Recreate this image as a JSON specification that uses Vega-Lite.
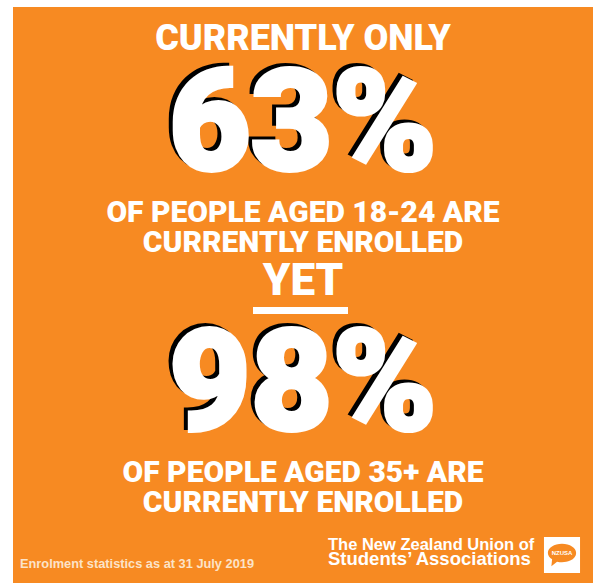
{
  "$schema": "https://vega.github.io/schema/vega-lite/v6.json",
  "width": 598,
  "height": 584,
  "autosize": {"type": "fit", "contains": "padding"},
  "padding": {"left": 13, "top": 7, "right": 5, "bottom": 1},
  "background": "#ffffff",
  "config": {"view": {"fill": "#F78A22", "stroke": null}},
  "data": {
    "values": [
      {"line": 1, "col": 2, "kind": "head", "label": "CURRENTLY ONLY"},
      {"line": 2, "col": 2, "kind": "big", "label": "63%", "value": 63},
      {"line": 3, "col": 2, "kind": "sub", "label": "OF PEOPLE AGED 18-24 ARE"},
      {"line": 4, "col": 2, "kind": "sub", "label": "CURRENTLY ENROLLED"},
      {"line": 5, "col": 2, "kind": "yet", "label": "YET"},
      {"line": 6, "col": 1, "col2": 4, "kind": "underline"},
      {"line": 7, "col": 2, "kind": "big", "label": "98%", "value": 98},
      {"line": 8, "col": 2, "kind": "sub", "label": "OF PEOPLE AGED 35+  ARE"},
      {"line": 9, "col": 2, "kind": "sub", "label": "CURRENTLY ENROLLED"},
      {"line": 10, "col": 3, "kind": "logo1", "label": "The New Zealand Union of"},
      {"line": 11, "col": 5, "kind": "logomark", "label": "NZUSA"},
      {"line": 12, "col": 3, "kind": "logo2", "label": "Students’ Associations"},
      {"line": 13, "col": 0, "kind": "foot", "label": "Enrolment statistics as at 31 July 2019"}
    ]
  },
  "encoding": {
    "x": {"field": "col", "type": "quantitative", "axis": null,
      "scale": {"domain": [0, 1, 2, 3, 4, 5], "range": [7, 240, 290, 315, 335, 549], "zero": false, "nice": false}},
    "y": {"field": "line", "type": "quantitative", "axis": null,
      "scale": {"domain": [1, 2, 3, 4, 5, 6, 7, 8, 9, 10, 11, 12, 13], "range": [43, 163, 215, 245, 288, 303.5, 423, 475, 505, 543, 548, 558, 561], "zero": false, "nice": false}}
  },
  "layer": [
    {
      "transform": [{"filter": "datum.kind === 'underline'"}],
      "mark": {"type": "rule", "color": "#ffffff", "strokeWidth": 7},
      "encoding": {"x2": {"field": "col2"}}
    },
    {
      "transform": [{"filter": "datum.kind === 'big'"}],
      "mark": {"type": "text", "font": "Roboto", "fontWeight": 900, "fontSize": 141, "fill": "#000000", "stroke": "#000000", "strokeWidth": 4, "baseline": "alphabetic", "align": "center", "dx": -4, "dy": -3},
      "encoding": {"text": {"field": "label"}}
    },
    {
      "transform": [{"filter": "datum.kind === 'big'"}],
      "mark": {"type": "text", "font": "Roboto", "fontWeight": 900, "fontSize": 141, "fill": "#ffffff", "stroke": "#ffffff", "strokeWidth": 4, "baseline": "alphabetic", "align": "center"},
      "encoding": {"text": {"field": "label"}}
    },
    {
      "transform": [{"filter": "datum.kind === 'head'"}],
      "mark": {"type": "text", "font": "Roboto", "fontWeight": 900, "fontSize": 36, "fill": "#ffffff", "baseline": "alphabetic", "align": "center"},
      "encoding": {"text": {"field": "label"}}
    },
    {
      "transform": [{"filter": "datum.kind === 'sub'"}],
      "mark": {"type": "text", "font": "Roboto", "fontWeight": 900, "fontSize": 30, "fill": "#ffffff", "baseline": "alphabetic", "align": "center"},
      "encoding": {"text": {"field": "label"}}
    },
    {
      "transform": [{"filter": "datum.kind === 'yet'"}],
      "mark": {"type": "text", "font": "Roboto", "fontWeight": 900, "fontSize": 44, "fill": "#ffffff", "baseline": "alphabetic", "align": "center"},
      "encoding": {"text": {"field": "label"}}
    },
    {
      "transform": [{"filter": "datum.kind === 'logo1'"}],
      "mark": {"type": "text", "font": "Liberation Sans", "fontWeight": "bold", "fontSize": 16.5, "fill": "#ffffff", "baseline": "alphabetic", "align": "left"},
      "encoding": {"text": {"field": "label"}}
    },
    {
      "transform": [{"filter": "datum.kind === 'logo2'"}],
      "mark": {"type": "text", "font": "Liberation Sans", "fontWeight": "bold", "fontSize": 18.5, "fill": "#ffffff", "baseline": "alphabetic", "align": "left"},
      "encoding": {"text": {"field": "label"}}
    },
    {
      "transform": [{"filter": "datum.kind === 'foot'"}],
      "mark": {"type": "text", "font": "Liberation Sans", "fontWeight": "bold", "fontSize": 12.8, "fill": "#FCE3C8", "baseline": "alphabetic", "align": "left"},
      "encoding": {"text": {"field": "label"}}
    },
    {
      "transform": [{"filter": "datum.kind === 'logomark'"}],
      "mark": {"type": "point", "shape": "square", "size": 1300, "filled": true, "fill": "#ffffff", "opacity": 1, "strokeWidth": 0},
      "encoding": {}
    },
    {
      "transform": [{"filter": "datum.kind === 'logomark'"}],
      "mark": {"type": "point", "shape": "M -1 -0.15 A 1 0.65 0 1 1 1 -0.15 A 1 0.65 0 0 1 -0.35 0.47 L -0.75 0.8 L -0.7 0.3 A 1 0.65 0 0 1 -1 -0.15 Z", "size": 800, "filled": true, "fill": "#F78A22", "opacity": 1, "strokeWidth": 0},
      "encoding": {}
    },
    {
      "transform": [{"filter": "datum.kind === 'logomark'"}],
      "mark": {"type": "text", "font": "Liberation Sans", "fontWeight": "bold", "fontSize": 6, "fill": "#ffffff", "baseline": "middle", "align": "center", "dy": -2},
      "encoding": {"text": {"field": "label"}}
    }
  ]
}
